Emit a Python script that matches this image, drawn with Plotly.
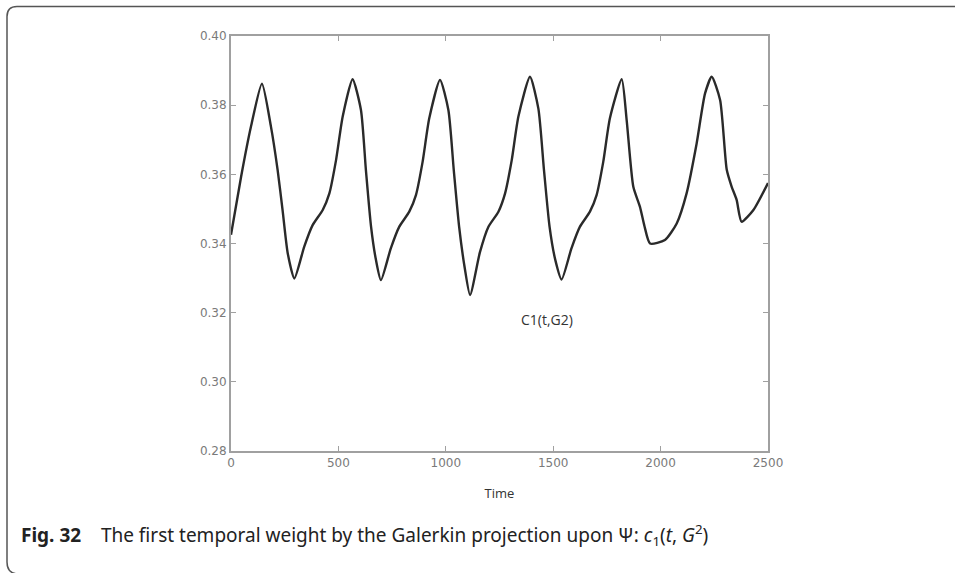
import plotly.graph_objects as go

# Time samples and C1(t, G2) values
time = [0, 47, 93, 144, 186, 217, 240, 264, 295,
        341, 380, 427, 458, 489, 520, 566,
        605, 628, 652, 675, 698,
        744, 783, 830, 861, 892, 923, 973,
        1012, 1037, 1062, 1088, 1113,
        1159, 1198, 1245, 1276, 1307, 1338, 1392,
        1431, 1457, 1483, 1510, 1539,
        1585, 1624, 1671, 1702, 1733, 1764, 1819,
        1842, 1873, 1904, 1925, 1951, 2020, 2075, 2121, 2168, 2207, 2238,
        2277, 2308, 2331, 2354, 2377, 2432, 2500]
c1 = [0.3425, 0.3593, 0.3738, 0.3862, 0.3738, 0.3613, 0.3497, 0.3372, 0.3299,
      0.3391, 0.3453, 0.3497, 0.3545, 0.3641, 0.3767, 0.3875,
      0.3786, 0.3613, 0.3449, 0.3352, 0.3294,
      0.3386, 0.3448, 0.3492, 0.3540, 0.3636, 0.3762, 0.3873,
      0.3786, 0.3613, 0.3449, 0.3330, 0.3251,
      0.3375, 0.3448, 0.3492, 0.3545, 0.3641, 0.3767, 0.3882,
      0.3790, 0.3613, 0.3449, 0.3352, 0.3296,
      0.3386, 0.3448, 0.3492, 0.3540, 0.3636, 0.3762, 0.3875,
      0.3757, 0.3564, 0.3506, 0.3450, 0.3400, 0.3410, 0.3458, 0.3545, 0.3690, 0.3834, 0.3882,
      0.3815, 0.3613, 0.3564, 0.3526, 0.3463, 0.3497, 0.3575]

x_ticks = [0, 500, 1000, 1500, 2000, 2500]
y_ticks = [0.28, 0.30, 0.32, 0.34, 0.36, 0.38, 0.40]
y_tick_labels = ["0.28", "0.30", "0.32", "0.34", "0.36", "0.38", "0.40"]

W, H = 955, 573
L, R, T, B = 231, 768, 36, 451

fig = go.Figure()
fig.add_trace(go.Scatter(
    x=time, y=c1, mode="lines",
    line=dict(color="#2a2a2a", width=2.4, shape="spline", smoothing=0.6),
    hoverinfo="skip", showlegend=False))

axis_common = dict(showgrid=False, zeroline=False, showline=True, linecolor="#a0a0a0",
                   linewidth=2, mirror="ticks", ticks="inside", ticklen=5,
                   tickcolor="#a0a0a0", tickwidth=1,
                   tickfont=dict(family="DejaVu Sans", size=12, color="#7a7a7a"))

fig.update_layout(
    width=W, height=H,
    margin=dict(l=L, r=W - R, t=T, b=H - B, pad=0),
    paper_bgcolor="white", plot_bgcolor="white",
    xaxis=dict(range=[0, 2500], tickvals=x_ticks, **axis_common,
               title=dict(text="Time", standoff=19,
                          font=dict(family="Open Sans", size=13, color="#333333"))),
    yaxis=dict(range=[0.28, 0.40], tickvals=y_ticks, ticktext=y_tick_labels, **axis_common),
)

fig.add_annotation(x=1471, y=0.3179, text="C1(t,G2)", showarrow=False,
                   font=dict(family="Open Sans", size=14, color="#333333"))


def px_x(px):
    return (px - L) / (R - L)


def px_y(py):
    return (B - py) / (B - T)


# Rounded border frame (paper coordinates computed from pixels)
x0, y0, y1, r = 7, 6.5, 574, 12
path = (f"M {px_x(960)} {px_y(y0)} L {px_x(x0 + 10)} {px_y(y0)} "
        f"Q {px_x(x0)} {px_y(y0)} {px_x(x0)} {px_y(y0 + 10)} "
        f"L {px_x(x0)} {px_y(y1 - r)} "
        f"Q {px_x(x0)} {px_y(y1)} {px_x(x0 + r)} {px_y(y1)} "
        f"L {px_x(60)} {px_y(y1)}")
fig.add_shape(type="path", path=path, xref="paper", yref="paper",
              line=dict(color="#555555", width=1.5))

fig.add_annotation(
    xref="paper", yref="paper", x=px_x(19), y=px_y(535), xanchor="left", yanchor="middle",
    showarrow=False, align="left",
    text="<b>Fig. 32</b>    The first temporal weight by the Galerkin projection upon \u03a8: "
         "<i>c</i><sub>1</sub>(<i>t</i>, <i>G</i><sup>2</sup>)",
    font=dict(family="Noto Sans", size=19, color="#222222"))

fig.write_html("out.html", config={"displayModeBar": False},
               post_script="document.body.style.margin='0px';")
